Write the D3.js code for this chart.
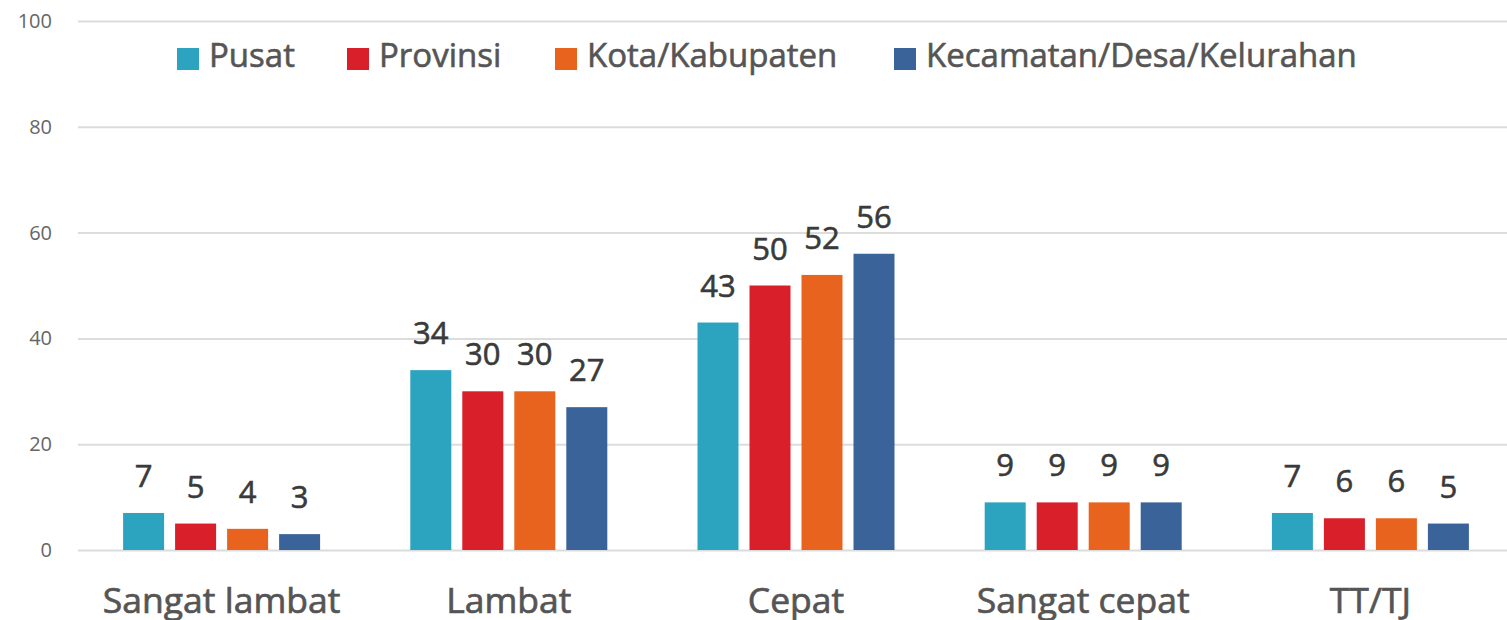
<!DOCTYPE html>
<html>
<head>
<meta charset="utf-8">
<script src="https://cdn.jsdelivr.net/npm/d3@7"></script>
<style>
  html, body { margin: 0; padding: 0; background: #fff; }
  svg { display: block; font-family: "Open Sans", sans-serif; }
</style>
</head>
<body>
<svg id="chart" width="1507" height="620"></svg>
<script>
// Response categories along the x axis
const categories = ["Sangat lambat", "Lambat", "Cepat", "Sangat cepat", "TT/TJ"];
// Government level series
const seriesNames = ["Pusat", "Provinsi", "Kota/Kabupaten", "Kecamatan/Desa/Kelurahan"];
const seriesColors = ["#2ca3bf", "#d91f2a", "#e8641e", "#3a6399"];
// Percentages per series, in category order
const pusat     = [7, 34, 43, 9, 7];
const provinsi  = [5, 30, 50, 9, 6];
const kota      = [4, 30, 52, 9, 6];
const kecamatan = [3, 27, 56, 9, 5];
const yTicks = [0, 20, 40, 60, 80, 100];

const seriesValues = [pusat, provinsi, kota, kecamatan];
const rows = categories.map((c, i) => ({
  category: c,
  values: seriesNames.map((s, j) => ({ series: s, color: seriesColors[j], value: seriesValues[j][i] }))
}));

const svg = d3.select("#chart");
const margin = { left: 78, right: -7, top: 21, bottom: 70 };
const W = 1507, H = 620;

const x = d3.scaleBand()
  .domain(categories)
  .range([margin.left, W - margin.right])
  .paddingInner(0).paddingOuter(0);

const groupWidth = 52 * 4 - 11;
const xInner = d3.scaleBand()
  .domain(seriesNames)
  .range([0, groupWidth])
  .paddingInner(11 / 52)
  .paddingOuter(0);

const y = d3.scaleLinear().domain([0, 100]).range([H - margin.bottom, margin.top]);

// Gridlines and y tick labels
const yAxis = d3.axisLeft(y).tickValues(yTicks).tickSize(-(W - margin.left)).tickPadding(26);
const gy = svg.append("g").attr("transform", `translate(${margin.left},0)`).call(yAxis);
gy.select(".domain").remove();
gy.selectAll(".tick line").attr("stroke", "#dcdcdc").attr("stroke-width", 2);
gy.selectAll(".tick text")
  .attr("fill", "#666")
  .style("font-size", "20px")
  .style("font-family", "'Open Sans', sans-serif");

// Category labels
const xAxis = d3.axisBottom(x).tickSize(0).tickPadding(0);
const gx = svg.append("g").attr("transform", `translate(0,${y(0)})`).call(xAxis);
gx.select(".domain").remove();
gx.selectAll(".tick text")
  .attr("dy", null)
  .attr("y", 63)
  .attr("fill", "#555")
  .attr("stroke", "#555")
  .attr("stroke-width", 0.7)
  .style("font-size", "35.5px")
  .style("font-family", "'Open Sans', sans-serif");

// Bars
const groups = svg.append("g").selectAll("g.cat")
  .data(rows).join("g")
  .attr("class", "cat")
  .attr("transform", d => `translate(${x(d.category) + x.bandwidth() / 2 - groupWidth / 2},0)`);

groups.selectAll("rect")
  .data(d => d.values).join("rect")
  .attr("x", d => xInner(d.series))
  .attr("width", xInner.bandwidth())
  .attr("y", d => y(d.value))
  .attr("height", d => y(0) - y(d.value))
  .attr("fill", d => d.color);

// Value labels
groups.selectAll("text.val")
  .data(d => d.values).join("text")
  .attr("class", "val")
  .attr("x", d => xInner(d.series) + xInner.bandwidth() / 2)
  .attr("y", d => y(d.value) - 26)
  .attr("text-anchor", "middle")
  .attr("fill", "#3a3a3a")
  .attr("stroke", "#3a3a3a")
  .attr("stroke-width", 0.6)
  .style("font-size", "31px")
  .text(d => d3.format("d")(d.value));

// Legend
const legendX = [177, 347, 555, 894];
const legend = svg.append("g").selectAll("g.leg")
  .data(seriesNames).join("g")
  .attr("class", "leg")
  .attr("transform", (d, i) => `translate(${legendX[i]},48)`);
legend.append("rect")
  .attr("width", 22).attr("height", 22)
  .attr("fill", (d, i) => seriesColors[i]);
legend.append("text")
  .attr("x", 32).attr("y", 19)
  .attr("fill", "#555")
  .attr("stroke", "#555")
  .attr("stroke-width", 0.6)
  .style("font-size", "33px")
  .text(d => d);
</script>
</body>
</html>
